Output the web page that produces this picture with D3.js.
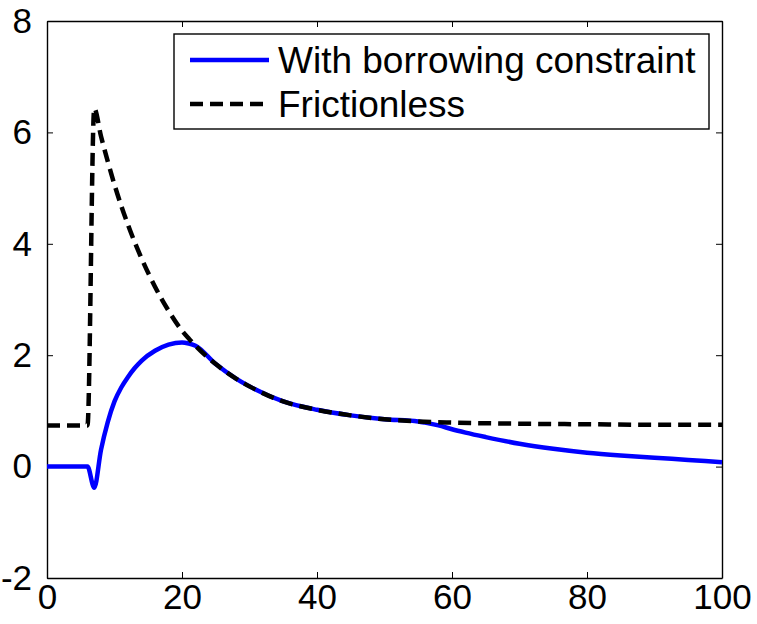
<!DOCTYPE html>
<html>
<head>
  <title>Borrowing constraint</title>
  <script src="https://cdn.jsdelivr.net/npm/d3@7/dist/d3.min.js"></script>
  <style>
    body { margin: 0; background: #fff; }
    text { font-family: "Liberation Sans", Arial, sans-serif; }
  </style>
</head>
<body>
  <svg width="757" height="624" id="mainsvg"></svg>
  <script>
    // values
    const constrainedX = [0, 6, 7, 8, 9, 10, 11, 12, 13, 14, 16, 18, 20, 21, 22, 25, 28, 30, 35, 40, 45, 50, 55, 56, 58, 60, 62, 65, 70, 75, 80, 85, 90, 95, 100];
    const constrainedY = [0, 0, -0.38, 0.3, 0.8, 1.17, 1.42, 1.61, 1.77, 1.9, 2.08, 2.19, 2.23, 2.21, 2.17, 1.84, 1.58, 1.44, 1.17, 1.02, 0.92, 0.85, 0.81, 0.79, 0.74, 0.67, 0.61, 0.53, 0.41, 0.32, 0.25, 0.2, 0.16, 0.12, 0.08];

    const frictionlessX = [0, 6, 7, 8, 9, 10, 12, 14, 16, 18, 20, 21, 22, 25, 28, 30, 35, 40, 45, 50, 55, 60, 70, 80, 90, 100];
    const frictionlessY = [0.74, 0.74, 6.43, 5.93, 5.48, 5.06, 4.34, 3.74, 3.23, 2.8, 2.44, 2.3, 2.17, 1.84, 1.58, 1.44, 1.17, 1.02, 0.92, 0.85, 0.81, 0.79, 0.77, 0.76, 0.75, 0.75];

    const xTicks = [0, 20, 40, 60, 80, 100];
    const yTicks = [-2, 0, 2, 4, 6, 8];
    const seriesNames = ['With borrowing constraint', 'Frictionless'];

    const svg = d3.select('#mainsvg');
    const width = +svg.attr('width');
    const height = +svg.attr('height');
    const margin = { top: 21, right: 35, bottom: 46, left: 47 };
    const innerWidth = width - margin.left - margin.right;
    const innerHeight = height - margin.top - margin.bottom;

    const g = svg.append('g')
      .attr('transform', `translate(${margin.left}, ${margin.top})`);

    const xScale = d3.scaleLinear().domain([0, 100]).range([0, innerWidth]);
    const yScale = d3.scaleLinear().domain([-2, 8]).range([innerHeight, 0]);

    // axes, ticks pointing inward like matlab, box on all four sides
    const tickLen = 6;
    const plain = d => String(d); // ascii hyphen for -2
    const styleAxis = sel => {
      sel.select('.domain').attr('stroke', '#000').attr('stroke-width', 1.4);
      sel.selectAll('.tick line').attr('stroke', '#000').attr('stroke-width', 1);
      sel.selectAll('.tick text').attr('font-size', 35).attr('fill', '#000')
        .attr('font-family', '"Liberation Sans", Arial, sans-serif');
    };

    g.append('g').attr('transform', `translate(0, ${innerHeight})`)
      .call(d3.axisBottom(xScale).tickValues(xTicks).tickFormat(plain).tickSize(-tickLen).tickSizeOuter(0).tickPadding(6))
      .call(styleAxis);
    g.append('g')
      .call(d3.axisTop(xScale).tickValues(xTicks).tickSize(-tickLen).tickSizeOuter(0).tickFormat(''))
      .call(styleAxis);
    g.append('g')
      .call(d3.axisLeft(yScale).tickValues(yTicks).tickFormat(plain).tickSize(-tickLen).tickSizeOuter(0).tickPadding(15))
      .call(styleAxis);
    g.append('g').attr('transform', `translate(${innerWidth}, 0)`)
      .call(d3.axisRight(yScale).tickValues(yTicks).tickSize(-tickLen).tickSizeOuter(0).tickFormat(''))
      .call(styleAxis);

    const constrained = constrainedX.map((x, i) => ({ x: x, y: constrainedY[i] }));
    const frictionless = frictionlessX.map((x, i) => ({ x: x, y: frictionlessY[i] }));

    const line = d3.line()
      .x(d => xScale(d.x))
      .y(d => yScale(d.y))
      .curve(d3.curveMonotoneX);

    g.append('path').datum(constrained)
      .attr('fill', 'none')
      .attr('stroke', '#0000ff')
      .attr('stroke-width', 4.5)
      .attr('stroke-linejoin', 'round')
      .attr('d', line);

    g.append('path').datum(frictionless)
      .attr('fill', 'none')
      .attr('stroke', '#000')
      .attr('stroke-width', 4.5)
      .attr('stroke-dasharray', '13,7')
      .attr('d', line);

    // legend
    const legend = svg.append('g');
    legend.append('rect')
      .attr('x', 174).attr('y', 34).attr('width', 535).attr('height', 95)
      .attr('fill', '#fff').attr('stroke', '#000').attr('stroke-width', 1.4);

    const legendStyles = [
      { color: '#0000ff', dash: null },
      { color: '#000', dash: '13,7' }
    ];
    seriesNames.forEach((name, i) => {
      const y = 60 + i * 44;
      legend.append('line')
        .attr('x1', 190).attr('x2', 269).attr('y1', y).attr('y2', y)
        .attr('stroke', legendStyles[i].color)
        .attr('stroke-width', 4.5)
        .attr('stroke-dasharray', legendStyles[i].dash);
      legend.append('text')
        .attr('x', 278).attr('y', y + 13)
        .attr('font-size', 37)
        .attr('fill', '#000')
        .text(name);
    });
  </script>
</body>
</html>
